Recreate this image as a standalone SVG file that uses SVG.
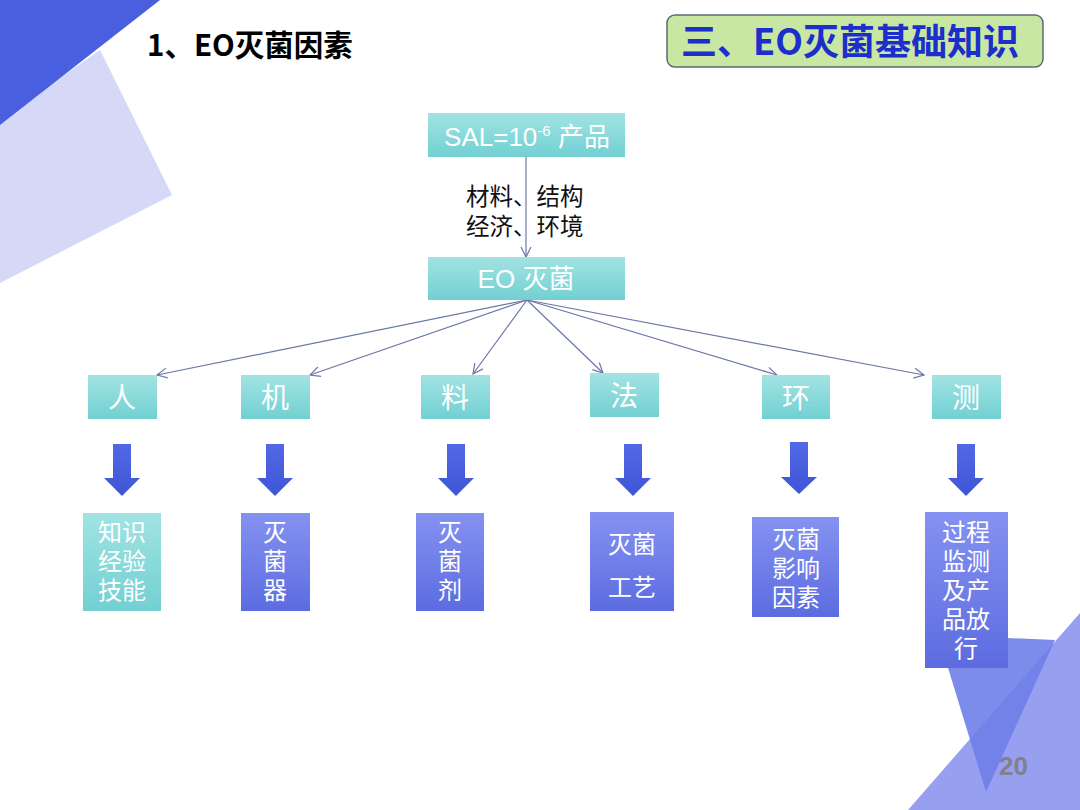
<svg xmlns="http://www.w3.org/2000/svg" width="1080" height="810" viewBox="0 0 1080 810">
<defs>
<linearGradient id="teal" x1="0" y1="0" x2="0" y2="1">
<stop offset="0" stop-color="#a2e3e3"/>
<stop offset="1" stop-color="#72d0d2"/>
</linearGradient>
<linearGradient id="purp" x1="0" y1="0" x2="0" y2="1">
<stop offset="0" stop-color="#8592f1"/>
<stop offset="1" stop-color="#5c6ce0"/>
</linearGradient>
<linearGradient id="blk" x1="0" y1="0" x2="0" y2="1">
<stop offset="0" stop-color="#5268e6"/>
<stop offset="1" stop-color="#3e55d6"/>
</linearGradient>
<marker id="open" viewBox="0 0 12 12" refX="11" refY="6" markerWidth="12" markerHeight="12" markerUnits="userSpaceOnUse" orient="auto">
<path d="M1,1 L11,6 L1,11" fill="none" stroke="#6a78a8" stroke-width="1.2"/>
</marker>
</defs>
<style>
.t{fill:url(#teal);}
.p{fill:url(#purp);}
.w{fill:#ffffff;font-family:"Liberation Sans","Noto Sans CJK SC",sans-serif;text-anchor:middle;}
.c{font-size:28px;}
.b{font-size:24px;}
.blk{fill:url(#blk);}
.ln{stroke:#6a78a8;stroke-width:1.2;fill:none;}
.lab{font-family:"Noto Sans CJK SC",sans-serif;font-size:23.5px;fill:#111111;}
</style>
<rect width="1080" height="810" fill="#ffffff"/>
<g id="background">
<polygon points="0,120 100,50 172,195 0,283" fill="#d5d9f7"/>
<polygon points="0,0 160,0 0,125" fill="#4a5fe0"/>
<polygon points="908,810 1080,613 1080,810" fill="#979ff0"/>
<polygon points="938,635 1055,640 986,792" fill="#6f7ee8" opacity="0.9"/>
</g>
<g id="title">
<text x="147" y="56" font-family="Noto Sans CJK SC,sans-serif" font-weight="bold" font-size="29.5" fill="#000000">1、EO灭菌因素</text>
</g>
<g id="header">
<rect x="667" y="15" width="376" height="52" rx="8" fill="#c7e7a2" stroke="#5c6a78" stroke-width="1.5"/>
<text x="850" y="55" text-anchor="middle" font-family="Noto Sans CJK SC,sans-serif" font-weight="bold" font-size="36" fill="#1c2ecc">三、EO灭菌基础知识</text>
</g>
<g id="connectors">
<line class="ln" x1="526" y1="157" x2="526" y2="257" marker-end="url(#open)"/>
<line class="ln" x1="527" y1="300" x2="157" y2="375" marker-end="url(#open)"/>
<line class="ln" x1="527" y1="300" x2="310" y2="375" marker-end="url(#open)"/>
<line class="ln" x1="527" y1="300" x2="473" y2="374" marker-end="url(#open)"/>
<line class="ln" x1="527" y1="300" x2="603" y2="373" marker-end="url(#open)"/>
<line class="ln" x1="527" y1="300" x2="777" y2="375" marker-end="url(#open)"/>
<line class="ln" x1="527" y1="300" x2="924" y2="375" marker-end="url(#open)"/>
<polygon class="blk" points="113,444 131,444 131,478 140,478 122,496 104,478 113,478"/>
<polygon class="blk" points="266,444 284,444 284,478 293,478 275,496 257,478 266,478"/>
<polygon class="blk" points="447,444 465,444 465,478 474,478 456,496 438,478 447,478"/>
<polygon class="blk" points="624,444 642,444 642,478 651,478 633,496 615,478 624,478"/>
<polygon class="blk" points="790,442 808,442 808,477 817,477 799,494 781,477 790,477"/>
<polygon class="blk" points="957,444 975,444 975,478 984,478 966,496 948,478 957,478"/>
</g>
<g id="edge-label">
<text class="lab" x="466" y="205">材料、结构<tspan x="466" y="235">经济、环境</tspan></text>
</g>
<g id="node-sal">
<rect class="t" x="428" y="113" width="197" height="44"/>
<text class="w" x="527" y="146" font-size="26">SAL=10<tspan font-size="15" dy="-10">-6</tspan><tspan dy="10"> 产品</tspan></text>
</g>
<g id="node-eo">
<rect class="t" x="428" y="257" width="197" height="43"/>
<text class="w" x="526" y="288" font-size="26">EO 灭菌</text>
</g>
<g id="node-ren"><rect class="t" x="88" y="375" width="69" height="44"/><text class="w c" x="122" y="408">人</text></g>
<g id="node-ji"><rect class="t" x="241" y="375" width="69" height="44"/><text class="w c" x="275" y="408">机</text></g>
<g id="node-liao"><rect class="t" x="421" y="375" width="69" height="44"/><text class="w c" x="455" y="408">料</text></g>
<g id="node-fa"><rect class="t" x="590" y="373" width="69" height="44"/><text class="w c" x="624" y="406">法</text></g>
<g id="node-huan"><rect class="t" x="762" y="375" width="68" height="44"/><text class="w c" x="796" y="408">环</text></g>
<g id="node-ce"><rect class="t" x="932" y="375" width="69" height="44"/><text class="w c" x="966" y="408">测</text></g>
<g id="node-zhishi">
<rect class="t" x="83" y="513" width="78" height="98"/>
<text class="w b" x="122" y="541">知识</text>
<text class="w b" x="122" y="570">经验</text>
<text class="w b" x="122" y="599">技能</text>
</g>
<g id="node-mieqi">
<rect class="p" x="241" y="513" width="69" height="98"/>
<text class="w b" x="275" y="541">灭</text>
<text class="w b" x="275" y="570">菌</text>
<text class="w b" x="275" y="599">器</text>
</g>
<g id="node-mieji">
<rect class="p" x="416" y="513" width="68" height="98"/>
<text class="w b" x="450" y="541">灭</text>
<text class="w b" x="450" y="570">菌</text>
<text class="w b" x="450" y="599">剂</text>
</g>
<g id="node-gongyi">
<rect class="p" x="590" y="512" width="84" height="99"/>
<text class="w b" x="632" y="553">灭菌</text>
<text class="w b" x="632" y="596">工艺</text>
</g>
<g id="node-yingxiang">
<rect class="p" x="752" y="517" width="87" height="100"/>
<text class="w b" x="796" y="548">灭菌</text>
<text class="w b" x="796" y="577">影响</text>
<text class="w b" x="796" y="606">因素</text>
</g>
<g id="node-guocheng">
<rect class="p" x="925" y="512" width="83" height="156"/>
<text class="w b" x="966" y="541">过程</text>
<text class="w b" x="966" y="570">监测</text>
<text class="w b" x="966" y="599">及产</text>
<text class="w b" x="966" y="628">品放</text>
<text class="w b" x="966" y="657">行</text>
</g>
<g id="page-number">
<text x="999" y="775" font-family="Liberation Sans,sans-serif" font-weight="bold" font-size="26" fill="#80808e">20</text>
</g>
</svg>
